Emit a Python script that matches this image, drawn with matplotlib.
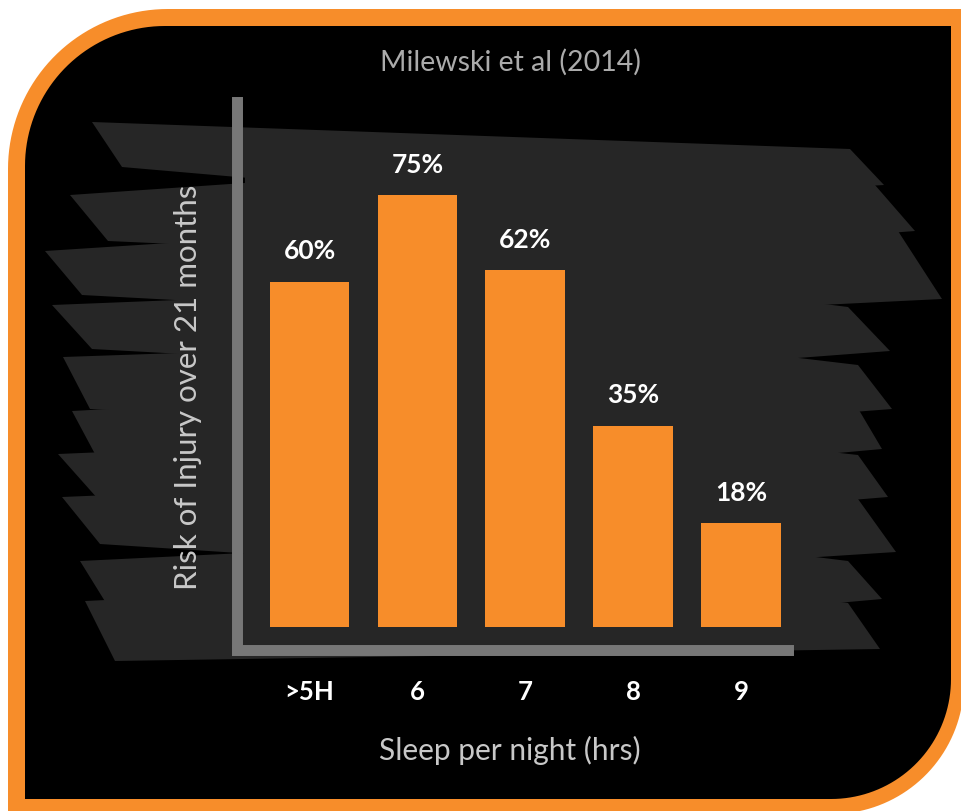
import matplotlib.pyplot as plt
import numpy as np
from matplotlib.patches import Polygon
from matplotlib.transforms import Affine2D

plt.rcParams['font.family'] = ['Lato', 'DejaVu Sans']

# data
categories = [">5H", "6", "7", "8", "9"]
risk_pct = [60, 75, 62, 35, 18]
title = "Milewski et al (2014)"
xlabel = "Sleep per night (hrs)"
ylabel = "Risk of Injury over 21 months"

ORANGE = "#F78D2A"
STROKE = "#262626"
W, H = 961, 812

fig = plt.figure(figsize=(W / 100, H / 100), dpi=100, facecolor="white")
# pixel coords, origin top-left
px = Affine2D().scale(1 / W, -1 / H).translate(0, 1) + fig.transFigure


def frame(x0, y0, x1, y1, r_tl, r_br, n=40):
    pts = [(x0 + r_tl, y0), (x1, y0), (x1, y1 - r_br)]
    t = np.linspace(0, np.pi / 2, n)
    cx, cy = x1 - r_br, y1 - r_br
    pts += list(zip(cx + r_br * np.cos(t), cy + r_br * np.sin(t)))
    pts += [(x0, y1), (x0, y0 + r_tl)]
    cx, cy = x0 + r_tl, y0 + r_tl
    t = np.linspace(np.pi, 1.5 * np.pi, n)
    pts += list(zip(cx + r_tl * np.cos(t), cy + r_tl * np.sin(t)))
    return pts


def lerp(x, x0, y0, x1, y1):
    return y0 + (y1 - y0) * (x - x0) / (x1 - x0)


fig.add_artist(Polygon(frame(8, 10, 964, 815, 160, 132), closed=True,
                       facecolor=ORANGE, edgecolor="none", transform=px, zorder=0))
fig.add_artist(Polygon(frame(25, 27, 951, 800, 140, 120), closed=True,
                       facecolor="black", edgecolor="none", transform=px, zorder=0))

# brush strokes behind the chart: left tip top/bottom x, right tip top/bottom x,
# top y (left, right), bottom y (left, right)
strokes = [
    (92, 122, 850, 884, 123, 150, 168, 186),
    (70, 108, 868, 915, 196, 178, 242, 232),
    (45, 82, 898, 942, 252, 232, 296, 300),
    (52, 92, 848, 890, 306, 308, 350, 352),
    (63, 90, 858, 892, 358, 366, 410, 410),
    (72, 95, 856, 882, 412, 406, 455, 450),
    (58, 98, 858, 888, 455, 456, 500, 498),
    (62, 100, 858, 896, 498, 500, 545, 553),
    (80, 106, 848, 882, 562, 562, 604, 600),
    (85, 115, 848, 880, 602, 604, 662, 650),
]
n_st = len(strokes)
xa, xb = 265, 775
for i, (xlt, xlb, xrt, xrb, ytl, ytr, ybl, ybr) in enumerate(strokes):
    # inner edges swell towards the middle so the gaps taper to wedges
    up = 0 if i == 0 else 9
    dn = 0 if i == n_st - 1 else 9
    pts = [(xlt, ytl),
           (xa, lerp(xa, xlt, ytl, xrt, ytr) - up),
           (xb, lerp(xb, xlt, ytl, xrt, ytr) - up),
           (xrt, ytr), (xrb, ybr),
           (xb, lerp(xb, xlb, ybl, xrb, ybr) + dn),
           (xa, lerp(xa, xlb, ybl, xrb, ybr) + dn),
           (xlb, ybl)]
    fig.add_artist(Polygon(pts, closed=True, facecolor=STROKE, edgecolor="none",
                           transform=px, zorder=1))
fig.add_artist(Polygon([(245, 132), (785, 152), (785, 640), (245, 658)],
                       closed=True, facecolor=STROKE, edgecolor="none",
                       transform=px, zorder=1))

left, right, top, bottom = 236.5, 787.5, 102.5, 651
ax = fig.add_axes([left / W, 1 - bottom / H, (right - left) / W, (bottom - top) / H])
ax.set_facecolor("none")
ax.set_zorder(2)

x = np.arange(len(categories))
bars = ax.bar(x, risk_pct, width=0.74, color=ORANGE)
for xi, v in zip(x, risk_pct):
    ax.annotate(f"{v}%", (xi, v), xytext=(0, 14), textcoords="offset points",
                ha="center", va="bottom", color="white", fontsize=19,
                fontweight="bold")

ax.set_xlim(-0.677, 4.43)
ax.set_ylim(-4.0, 91.3)
ax.set_xticks(x)
ax.set_xticklabels(categories, color="white", fontsize=18.5, fontweight="bold")
ax.set_yticks([])
ax.tick_params(axis="x", length=0, pad=21)

for s in ["top", "right"]:
    ax.spines[s].set_visible(False)
for s in ["left", "bottom"]:
    ax.spines[s].set_color("#777777")
    ax.spines[s].set_linewidth(7.9)
    ax.spines[s].set_capstyle("projecting")

ax.set_xlabel(xlabel, color="#c8c8c8", fontsize=21.5, va="center")
ax.xaxis.set_label_coords(0.496, -0.1805)
ax.set_ylabel(ylabel, color="#c8c8c8", fontsize=22.5, va="center")
ax.yaxis.set_label_coords(-0.088, 0.48)

fig.text(510 / W, 1 - 62 / H, title, ha="center", va="center",
         color="#ababab", fontsize=20.5)

fig.savefig("out.png", dpi=100, facecolor="white")
